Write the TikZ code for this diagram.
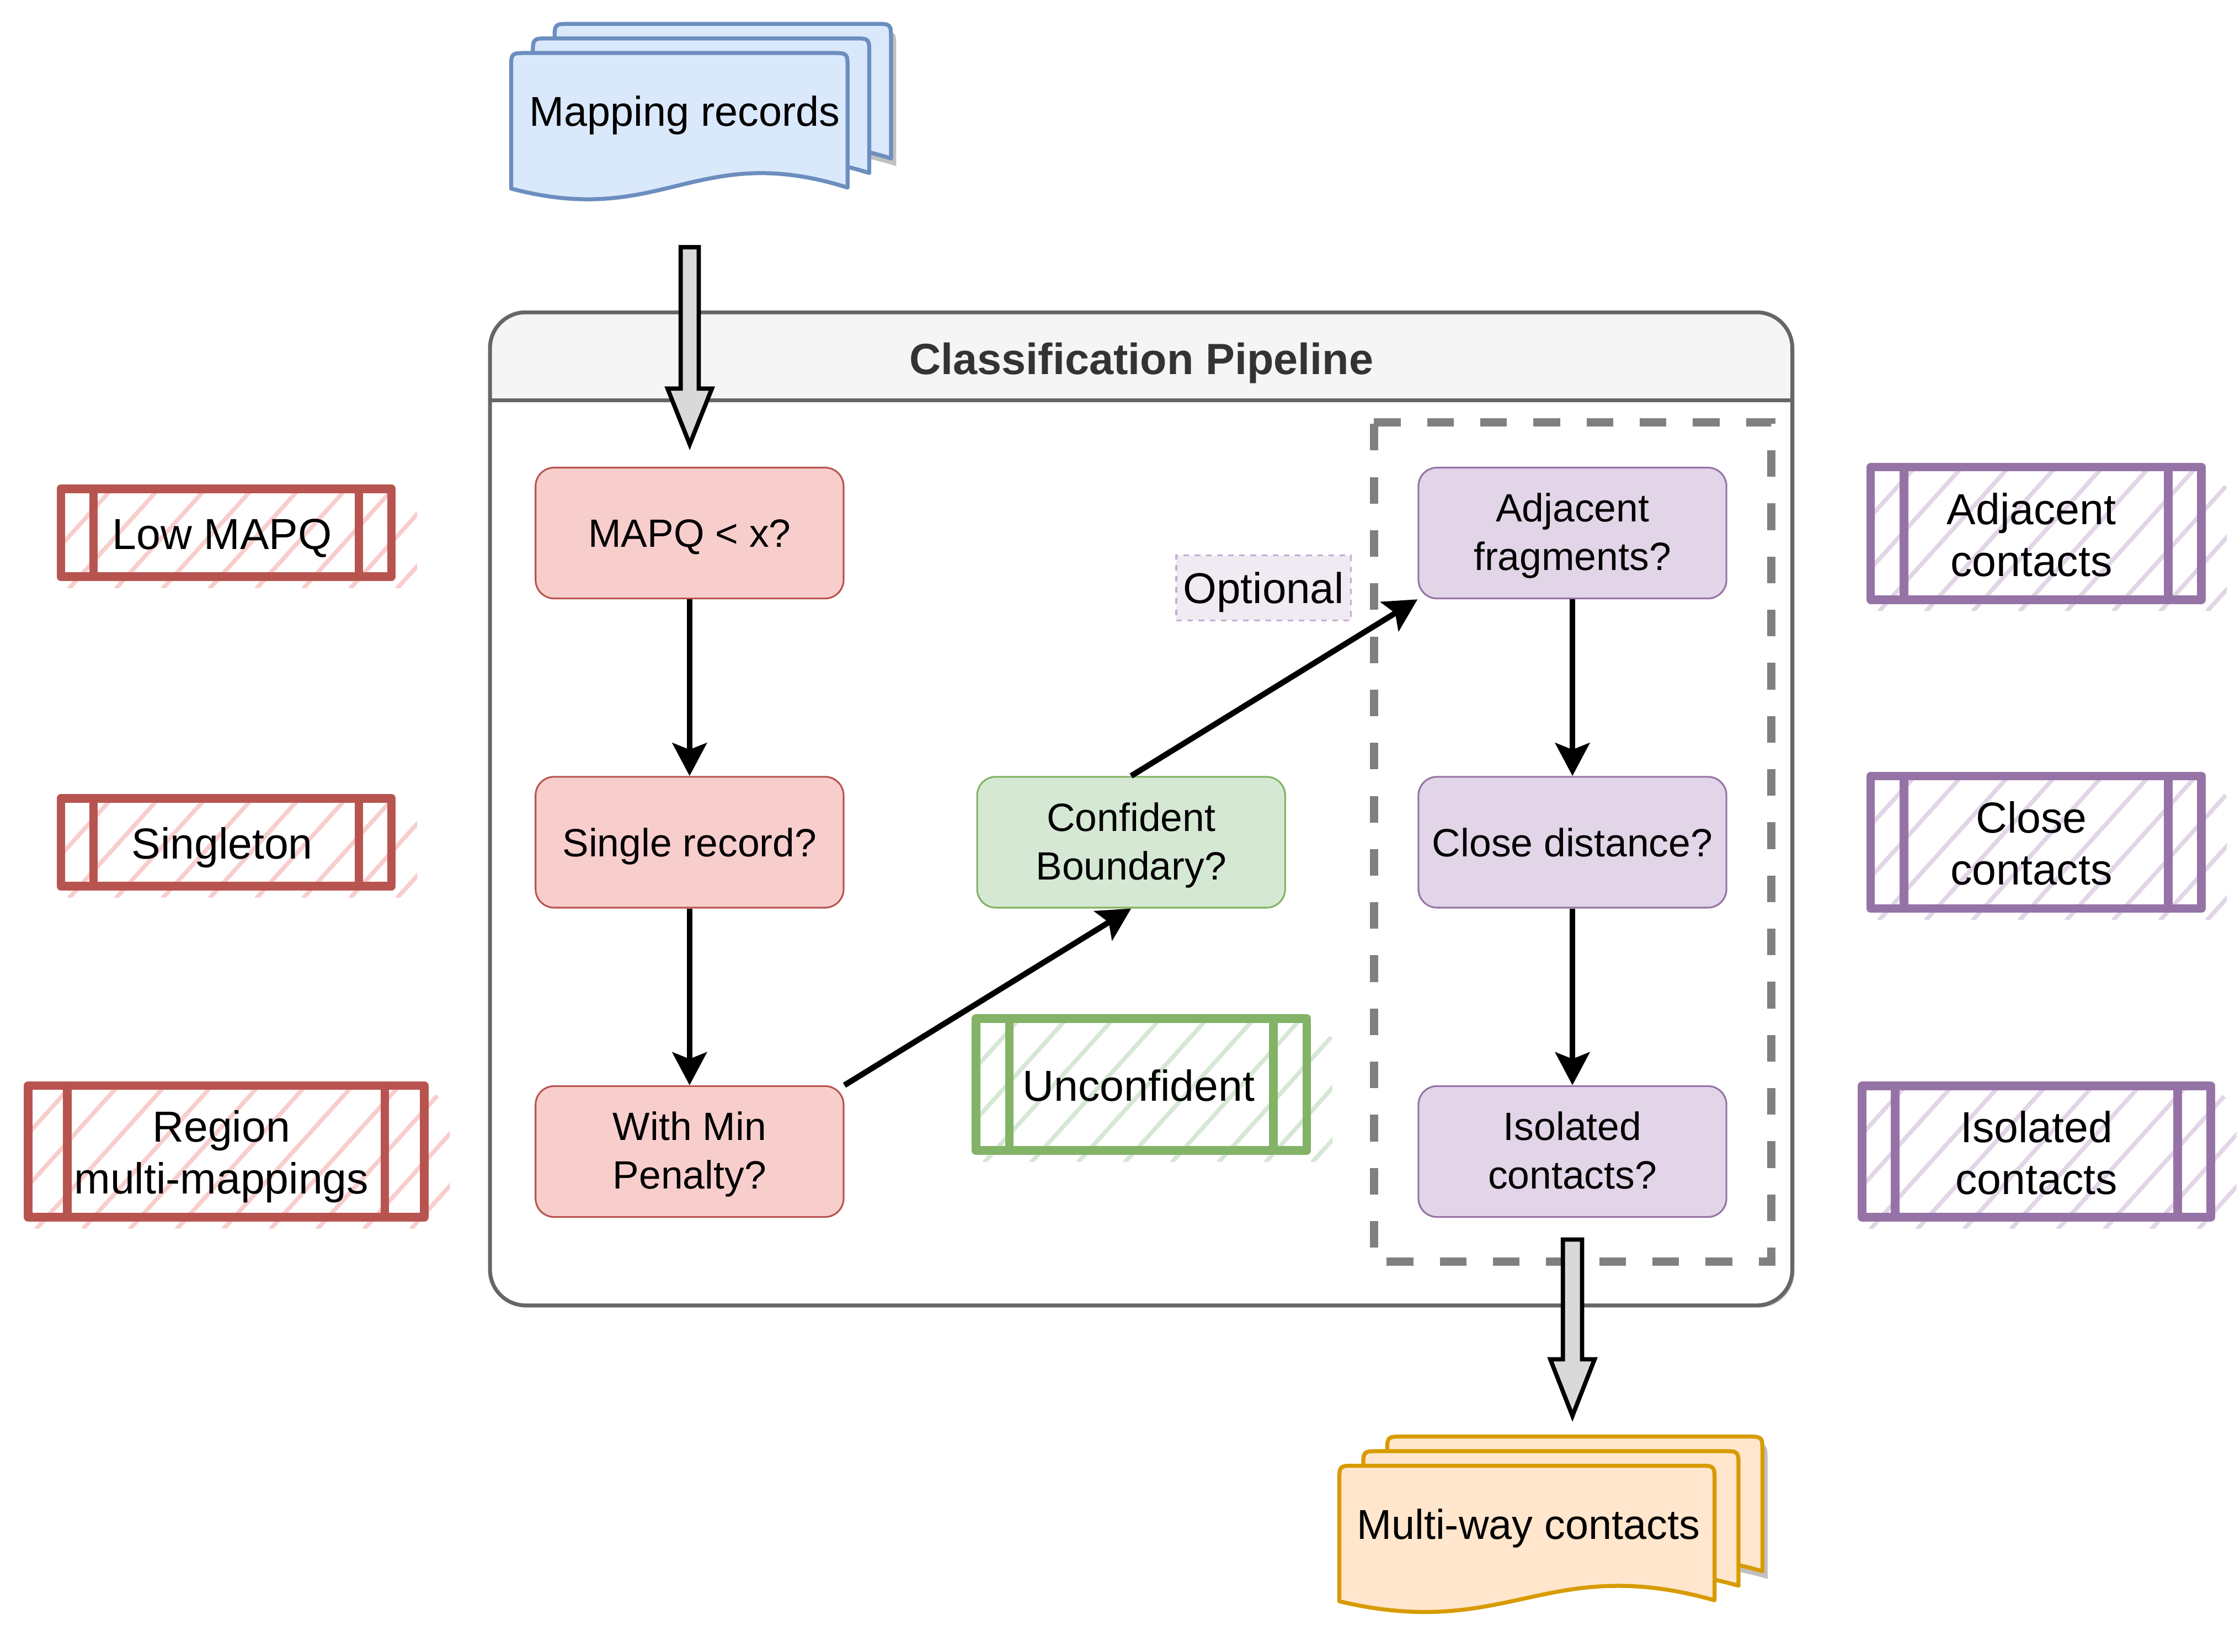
\documentclass[tikz,border=0pt]{standalone}
\usepackage{fontspec}
\setmainfont{Liberation Sans}
\usetikzlibrary{arrows.meta}
\definecolor{redfill}{HTML}{F8CECC}
\definecolor{redline}{HTML}{B85450}
\definecolor{greenfill}{HTML}{D5E8D4}
\definecolor{greenline}{HTML}{82B366}
\definecolor{purpfill}{HTML}{E1D5E7}
\definecolor{purpline}{HTML}{9673A6}
\definecolor{bluefill}{HTML}{DAE8FC}
\definecolor{blueline}{HTML}{6C8EBF}
\definecolor{orfill}{HTML}{FFE6CC}
\definecolor{orline}{HTML}{D79B00}
\definecolor{contline}{HTML}{666666}
\definecolor{contfill}{HTML}{F5F5F5}
\definecolor{dashgray}{HTML}{808080}
\definecolor{optfill}{HTML}{F0EAF3}
\definecolor{optline}{HTML}{C3ABD0}
\definecolor{arrowfill}{HTML}{D9D9D9}
\definecolor{shadowgray}{HTML}{C0C0C0}
\definecolor{titlegray}{HTML}{333333}
\tikzset{
  proc/.style={rectangle, rounded corners=6.5pt, draw, line width=0.6pt,
    minimum width=107.8pt, minimum height=45.8pt, inner sep=0pt, align=center,
    font=\fontsize{13.8}{16.95}\selectfont},
  rednode/.style={proc, fill=redfill, draw=redline},
  greennode/.style={proc, fill=greenfill, draw=greenline},
  purpnode/.style={proc, fill=purpfill, draw=purpline},
  oneline/.style={text depth=0pt},
  flow/.style={draw=black, line width=2pt, -{Stealth[length=11.5pt,width=12pt,inset=2.3pt]}},
  blockarrow/.style={draw=black, fill=arrowfill, line width=1.5pt, line join=miter},
  labeltext/.style={inner sep=0pt, align=center, font=\fontsize{15.2}{18.2}\selectfont},
  doctext/.style={inner sep=0pt, text depth=0pt, font=\fontsize{14.6}{17.5}\selectfont},
  docline/.style={line width=1.4pt, line join=round},
}
\newcommand\tallstrut{\rule{0pt}{12.05pt}}
\newcommand\docpath[4]{({#1},{#2+#4}) -- ({#1},{#2+11}) .. controls ({#1},{#2}) .. ({#1+11},{#2}) -- ({#1+#3-11},{#2}) .. controls ({#1+#3},{#2}) .. ({#1+#3},{#2+11}) -- ({#1+#3},{#2+#4-0.7}) .. controls ({#1+0.55*#3},{#2+#4-34}) and ({#1+0.45*#3},{#2+#4+28}) .. ({#1},{#2+#4}) -- cycle}
\newcommand\blockarr[5]{%
  \draw[blockarrow] ({#1-#5},{#2}) -- ({#1+#5},{#2}) -- ({#1+#5},{#3}) -- ({#1+15.5},{#3}) -- ({#1},{#4}) -- ({#1-15.5},{#3}) -- ({#1-#5},{#3}) -- cycle;}
\newcommand\sketchbox[7]{%
  \begin{scope}
    \clip (#1,#2) -- (#3,#2) -- ({#3+18},{#2+14}) -- ({#3+18},{#4+8}) -- (#1,{#4+8}) -- cycle;
    \foreach \k in {-3,...,9}{
      \draw[line width=1.5pt, #6, line cap=round] ({#1+6+\k*32.8},{#4+8}) -- ++({(#4-#2+8)*0.9},{-(#4-#2+8)});
    }
  \end{scope}
  \draw[line width=3pt, #7, line join=round] (#1,#2) rectangle (#3,#4);
  \draw[line width=3pt, #7, line cap=round] ({#1+#5},{#2}) -- ({#1+#5},{#4}) ({#3-#5},{#2}) -- ({#3-#5},{#4});
}
\begin{document}
\begin{tikzpicture}[x=0.5pt,y=-0.5pt]
\useasboundingbox (0,0) rectangle (1568,1156);
% container
\fill[shadowgray, rounded corners=12.5pt] (344.5,220.1) rectangle (1256.1,915.2);
\fill[white, rounded corners=12.5pt] (343,218.6) rectangle (1254.6,913.7);
\begin{scope}
  \clip (343,218.6) rectangle (1254.6,280.3);
  \fill[contfill, rounded corners=12.5pt] (343,218.6) rectangle (1254.6,913.7);
\end{scope}
\draw[contline, line width=1.35pt, rounded corners=12.5pt] (343,218.6) rectangle (1254.6,913.7);
\draw[contline, line width=1.35pt] (343,280.3) -- (1254.6,280.3);
\node[font=\bfseries\fontsize{15.3}{18}\selectfont, text=titlegray, text depth=0pt, inner sep=0pt] (title) at (799,251) {Classification Pipeline};
% dashed group
\draw[dashgray, line width=2.9pt, dash pattern=on 9.3pt off 9.3pt] (961.8,295.7) -- (1239.9,295.7) -- (1239.9,883) -- (961.8,883) -- cycle;
% nodes
\node[rednode, oneline] (mapq) at (482.7,373.1) {MAPQ < x?};
\node[rednode, oneline] (single) at (482.7,589.5) {Single record?};
\node[rednode] (minpen) at (482.7,806) {\tallstrut With Min\\Penalty?};
\node[greennode] (conf) at (791.8,589.5) {\tallstrut Confident\\Boundary?};
\node[purpnode] (adj) at (1100.7,373.1) {\tallstrut Adjacent\\fragments?};
\node[purpnode, oneline] (close) at (1100.7,589.5) {Close distance?};
\node[purpnode] (iso) at (1100.7,806) {\tallstrut Isolated\\contacts?\vphantom{y}};
\node[draw=optline, fill=optfill, dash pattern=on 1.95pt off 1.95pt, line width=0.65pt,
  minimum width=61.1pt, minimum height=22.7pt, inner sep=0pt, text depth=0pt,
  font=\fontsize{15.1}{18}\selectfont] (opt) at (884.5,411.5) {Optional};
% connectors
\draw[flow] (mapq) -- (single);
\draw[flow] (single) -- (minpen);
\draw[flow] (minpen.north east) -- (conf.south);
\draw[flow] (conf.north) -- (adj.south west);
\draw[flow] (adj) -- (close);
\draw[flow] (close) -- (iso);
% sketch boxes
\sketchbox{42.6}{342.1}{274}{403.6}{22.8}{redfill}{redline}
\sketchbox{42.6}{558.8}{274}{620.3}{22.8}{redfill}{redline}
\sketchbox{19.6}{759.9}{296.9}{851.9}{27.5}{redfill}{redline}
\sketchbox{683.2}{712.9}{914.7}{805.3}{23.4}{greenfill}{greenline}
\sketchbox{1309.5}{327}{1540.9}{419.7}{23.2}{purpfill}{purpline}
\sketchbox{1309.5}{543.2}{1540.9}{635.8}{23.2}{purpfill}{purpline}
\sketchbox{1303.5}{760}{1547.5}{852}{23.2}{purpfill}{purpline}
\node[labeltext, text depth=0pt] (lowmapq) at (155.5,373.7) {Low MAPQ};
\node[labeltext, text depth=0pt] (singleton) at (155.5,590.2) {Singleton};
\node[labeltext] (region) at (155,809.5) {Region\\multi-mappings};
\node[labeltext, text depth=0pt] (unconf) at (797.1,759.8) {Unconfident};
\node[labeltext] (adjc) at (1422,374.3) {Adjacent\\contacts};
\node[labeltext] (closec) at (1422,590.4) {Close\\contacts};
\node[labeltext] (isoc) at (1425.5,806.8) {Isolated\\contacts};
% documents
\fill[shadowgray] \docpath{391.8}{22.1}{235.5}{94.9};
\filldraw[docline, fill=bluefill, draw=blueline] \docpath{388.2}{16.7}{235.5}{94.9};
\filldraw[docline, fill=bluefill, draw=blueline] \docpath{373.0}{26.9}{235.5}{94.9};
\filldraw[docline, fill=bluefill, draw=blueline] \docpath{357.8}{37.1}{235.5}{94.9};
\node[doctext] (maprec) at (479.2,77.8) {Mapping records};
\fill[shadowgray] \docpath{974.6}{1010.9}{262.7}{94.9};
\filldraw[docline, fill=orfill, draw=orline] \docpath{971.0}{1005.5}{262.7}{94.9};
\filldraw[docline, fill=orfill, draw=orline] \docpath{954.25}{1015.7}{262.7}{94.9};
\filldraw[docline, fill=orfill, draw=orline] \docpath{937.5}{1025.9}{262.7}{94.9};
\node[doctext] (multiway) at (1069.9,1066.6) {Multi-way contacts};
% block arrows
\blockarr{482.8}{173}{272}{311}{6.35}
\blockarr{1100.7}{867.6}{951.4}{991}{6.7}
\end{tikzpicture}
\end{document}
